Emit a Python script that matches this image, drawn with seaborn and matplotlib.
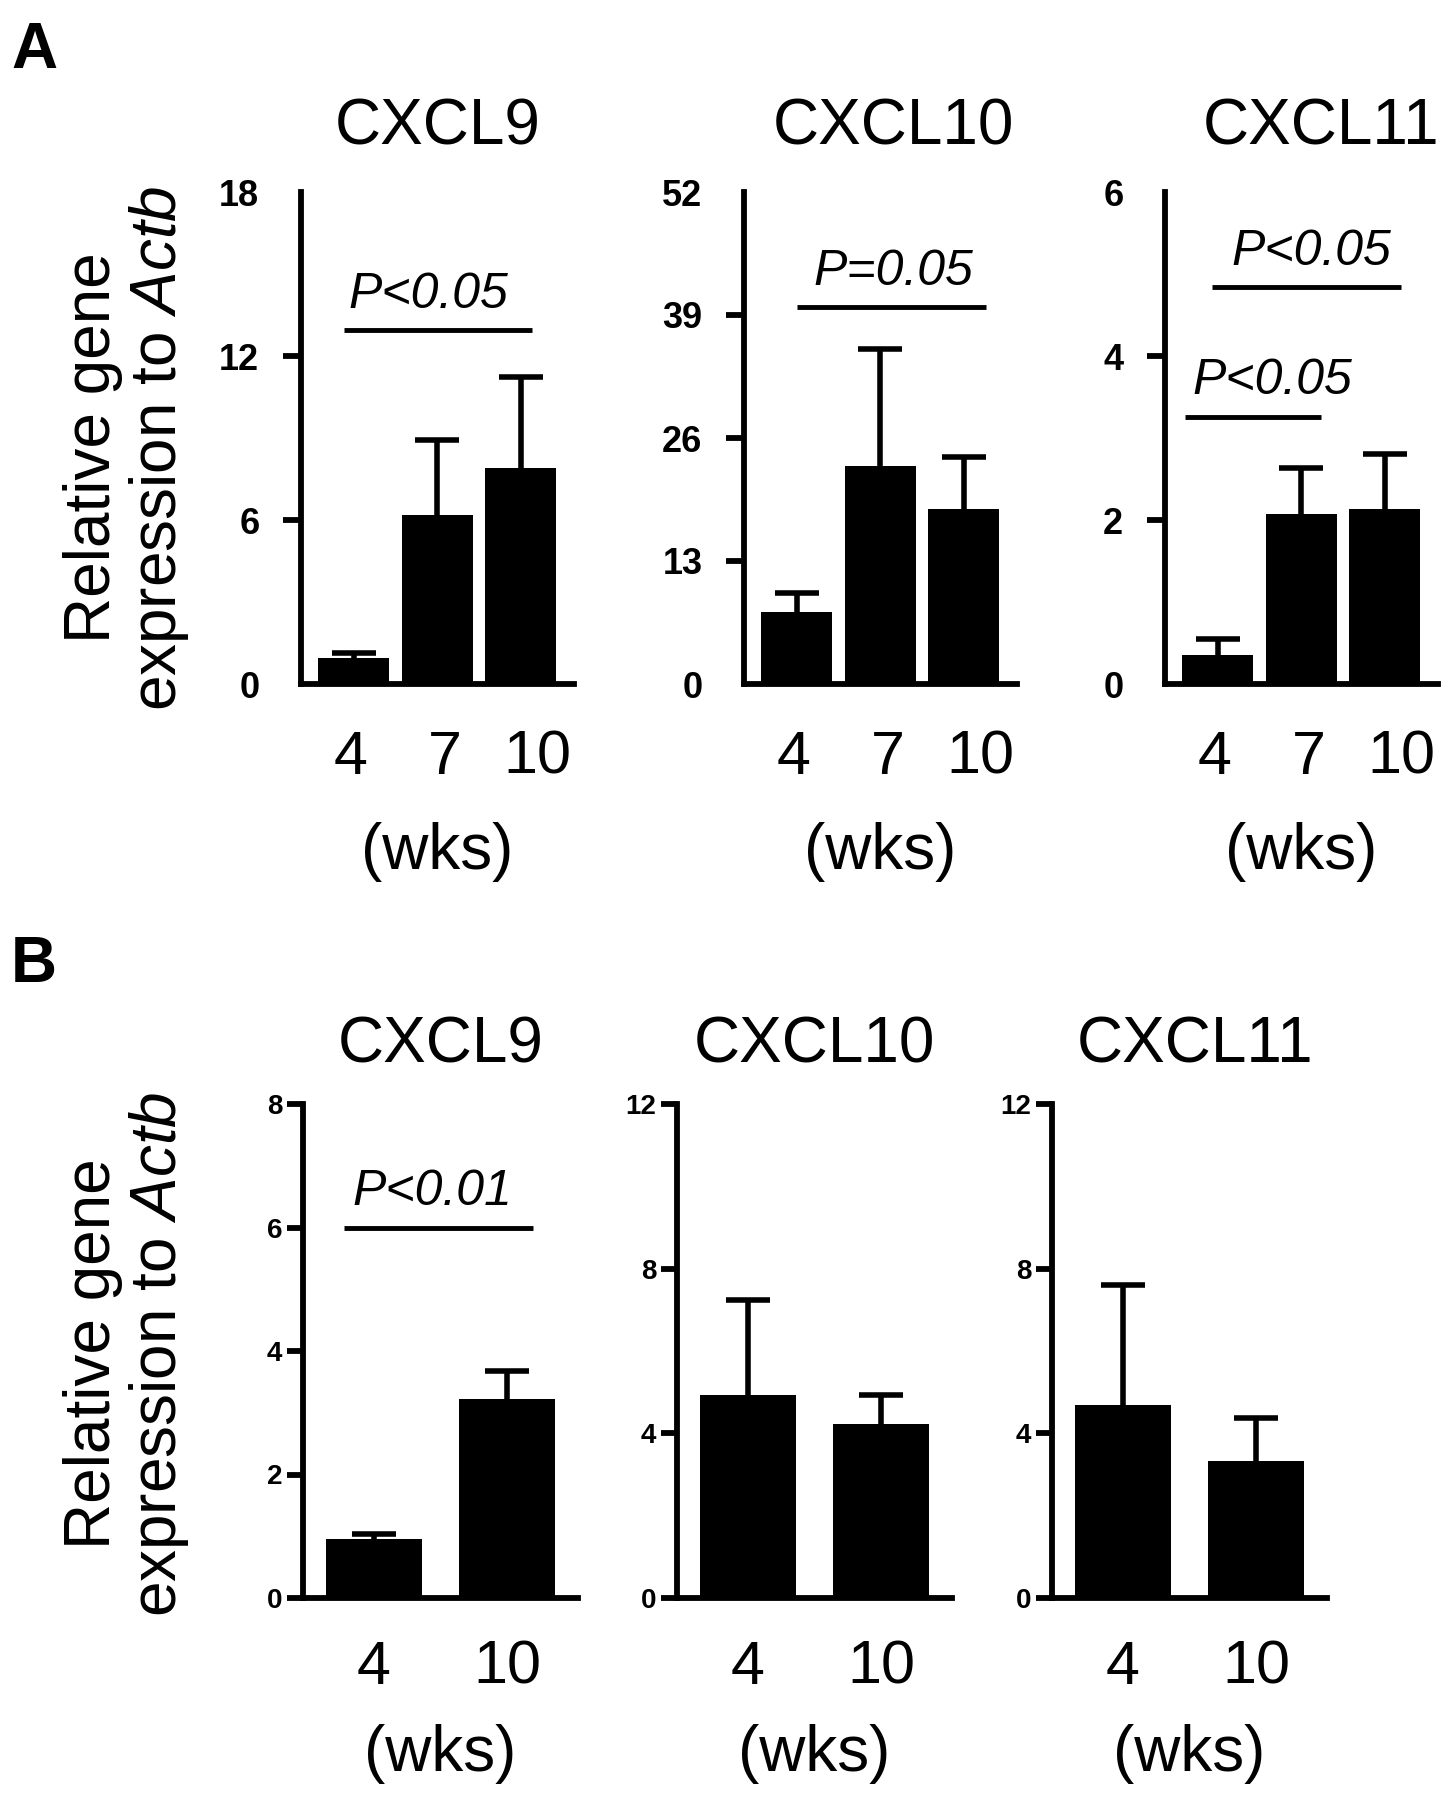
import numpy as np
import pandas as pd
import seaborn as sns
import matplotlib.pyplot as plt

sns.set_style("ticks")
plt.rcParams["font.family"] = ["Liberation Sans", "DejaVu Sans"]
plt.rcParams["mathtext.fontset"] = "custom"
plt.rcParams["mathtext.it"] = "Liberation Sans:italic"
plt.rcParams["mathtext.rm"] = "Liberation Sans"
for key in ["text.color", "axes.labelcolor", "xtick.color", "ytick.color", "axes.edgecolor"]:
    plt.rcParams[key] = "black"

# data (mean and upper error)
weeks_a = ["4", "7", "10"]
weeks_b = ["4", "10"]

a_cxcl9_mean = [0.95, 6.2, 7.9]
a_cxcl9_err = [0.18, 2.73, 3.35]
a_cxcl10_mean = [7.6, 23.0, 18.5]
a_cxcl10_err = [2.0, 12.4, 5.5]
a_cxcl11_mean = [0.35, 2.07, 2.14]
a_cxcl11_err = [0.2, 0.57, 0.66]

b_cxcl9_mean = [0.95, 3.23]
b_cxcl9_err = [0.09, 0.45]
b_cxcl10_mean = [4.92, 4.23]
b_cxcl10_err = [2.33, 0.71]
b_cxcl11_mean = [4.68, 3.33]
b_cxcl11_err = [2.92, 1.05]

a_cxcl9_ticks = [0, 6, 12, 18]
a_cxcl10_ticks = [0, 13, 26, 39, 52]
a_cxcl11_ticks = [0, 2, 4, 6]
b_cxcl9_ticks = [0, 2, 4, 6, 8]
b_cxcl10_ticks = [0, 4, 8, 12]
b_cxcl11_ticks = [0, 4, 8, 12]

# significance bars: (text, y, x start, x end, text x)
a_cxcl9_sig = [("P<0.05", 12.94, -0.11, 2.14, 0.89)]
a_cxcl10_sig = [("P=0.05", 39.8, 0.0, 2.27, 1.16)]
a_cxcl11_sig = [("P<0.05", 4.84, -0.07, 2.2, 1.12),
                ("P<0.05", 3.26, -0.39, 1.24, 0.66)]
b_cxcl9_sig = [("P<0.01", 6.0, -0.22, 1.19, 0.44)]

W, H = 1453, 1800
fig = plt.figure(figsize=(W / 100, H / 100), dpi=100)


def px_axes(left, top, width, height):
    return fig.add_axes([left / W, 1 - (top + height) / H, width / W, height / H])


def draw(ax, weeks, mean, err, ticks, title, sigs, big, title_x=0.5):
    df = pd.DataFrame({"wk": weeks, "val": mean})
    sns.barplot(data=df, x="wk", y="val", order=weeks, color="black",
                saturation=1, width=0.85 if big else 0.72, errorbar=None,
                ax=ax, zorder=2, linewidth=0)
    ax.errorbar(range(len(weeks)), mean, yerr=[mean, err], fmt="none",
                ecolor="black", elinewidth=4, capsize=16, capthick=4, zorder=1)
    ax.set_ylim(0, ticks[-1])
    ax.set_xlim((-0.63, 2.64) if big else (-0.53, 1.53))
    ax.set_yticks(ticks)
    if big:
        # Prism spreads the week labels a little wider than the bars
        ax.set_xticks([-0.04, 1.09, 2.2])
        ax.set_xticklabels(weeks)
    sns.despine(ax=ax)
    for s in ["left", "bottom"]:
        ax.spines[s].set_linewidth(4.2)
        ax.spines[s].set_color("black")
    ax.tick_params(axis="y", left=True, length=13 if big else 11.5, width=4.2,
                   pad=17 if big else 3.5, labelsize=26 if big else 20,
                   colors="black")
    ax.tick_params(axis="x", bottom=True, length=0, pad=33 if big else 30,
                   labelsize=44, colors="black")
    for lab in ax.get_yticklabels():
        lab.set_fontweight("bold")
    if big:
        yt = ax.yaxis.get_major_ticks()
        yt[0].tick1line.set_visible(False)
        yt[-1].tick1line.set_visible(False)
    ax.set_xlabel("(wks)", fontsize=46, labelpad=25 if big else 20)
    ax.set_ylabel("")
    ax.set_title(title, fontsize=46, pad=34 if big else 30, x=title_x)
    for text, y, x0, x1, xt in sigs:
        ax.plot([x0, x1], [y, y], color="black", lw=3.5,
                solid_capstyle="butt", clip_on=False)
        ax.annotate(text, xy=(xt, y), xytext=(0, 9), textcoords="offset points",
                    ha="center", va="bottom", fontsize=36, style="italic")


ax = px_axes(301, 192, 273, 492)
draw(ax, weeks_a, a_cxcl9_mean, a_cxcl9_err, a_cxcl9_ticks, "CXCL9", a_cxcl9_sig, True)
ax = px_axes(744, 192, 273, 492)
draw(ax, weeks_a, a_cxcl10_mean, a_cxcl10_err, a_cxcl10_ticks, "CXCL10", a_cxcl10_sig, True, 0.546)
ax = px_axes(1165, 192, 273, 492)
draw(ax, weeks_a, a_cxcl11_mean, a_cxcl11_err, a_cxcl11_ticks, "CXCL11", a_cxcl11_sig, True, 0.57)

ax = px_axes(303, 1104, 275, 494)
draw(ax, weeks_b, b_cxcl9_mean, b_cxcl9_err, b_cxcl9_ticks, "CXCL9", b_cxcl9_sig, False)
ax = px_axes(677, 1104, 275, 494)
draw(ax, weeks_b, b_cxcl10_mean, b_cxcl10_err, b_cxcl10_ticks, "CXCL10", [], False)
ax = px_axes(1052, 1104, 275, 494)
draw(ax, weeks_b, b_cxcl11_mean, b_cxcl11_err, b_cxcl11_ticks, "CXCL11", [], False, 0.52)

ylab = "Relative gene\nexpression to $\\mathit{Actb}$"
fig.text(127 / W, 1 - 448 / H, ylab, rotation=90, ha="center", va="center",
         fontsize=46, linespacing=1.1)
fig.text(127 / W, 1 - 1354 / H, ylab, rotation=90, ha="center", va="center",
         fontsize=46, linespacing=1.1)

fig.text(11 / W, 1 - 21 / H, "A", fontsize=46, fontweight="bold", ha="left", va="top")
fig.text(11 / W, 1 - 935 / H, "B", fontsize=46, fontweight="bold", ha="left", va="top")

fig.savefig("out.png", dpi=100)
